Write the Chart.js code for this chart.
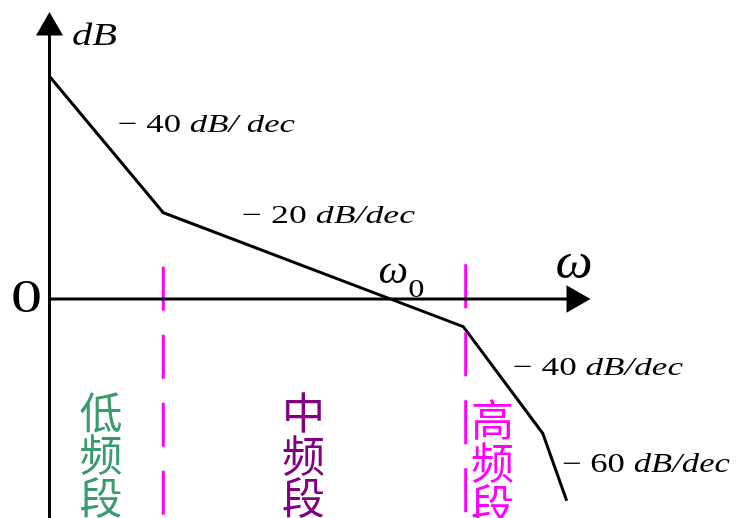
<!DOCTYPE html>
<html>
<head>
<meta charset="utf-8">
<script src="https://cdn.jsdelivr.net/npm/chart.js@4/dist/chart.umd.min.js"></script>
<style>
  html, body { margin: 0; padding: 0; background: #fff; }
  #wrap { width: 736px; height: 518px; }
  .pre { position: absolute; left: -1000px; top: 0; font-family: "Liberation Serif"; }
</style>
</head>
<body>
<span class="pre">0 dB</span><span class="pre" style="font-style:italic">dB ω</span>
<span class="pre" style="font-family:'Noto Sans CJK SC'">低频段</span>
<div id="wrap"><canvas id="c" width="736" height="518"></canvas></div>
<script>
// ---- data (sketch units: omega along x, gain in dB along y) ----
const omega  = [0.05, 11.38, 41.38, 49.32, 51.72];
const gainDB = [22.2, 8.63, -2.77, -13.43, -20.17];
const bandEdges = [11.38, 41.62];
const bandNames = ['低频段', '中频段', '高频段'];
const slopeValues = ['− 40', '− 20', '− 40', '− 60'];
const slopeUnit = 'dB/dec';

// ---- view window ----
const X_MIN = -4.95, X_MAX = 68.65, Y_MIN = -21.9, Y_MAX = 29.9;

const curve = omega.map((w, i) => ({ x: w, y: gainDB[i] }));

const datasets = [
  { // y axis with arrow
    data: [{ x: 0, y: Y_MIN }, { x: 0, y: 27.14 }],
    borderColor: '#000', borderWidth: 3,
    pointRadius: [0, 15.6], pointStyle: 'triangle', pointRotation: 0,
    pointBackgroundColor: '#000', pointBorderWidth: 0
  },
  { // x axis with arrow
    data: [{ x: 0, y: 0 }, { x: 52.5, y: 0 }],
    borderColor: '#000', borderWidth: 3,
    pointRadius: [0, 16], pointStyle: 'triangle', pointRotation: 90,
    pointBackgroundColor: '#000', pointBorderWidth: 0
  },
  ...bandEdges.map((e, i) => ({
    data: [{ x: e, y: i === 0 ? 3.23 : 3.47 }, { x: e, y: Y_MIN }],
    borderColor: '#FF00FF', borderWidth: 3, borderDash: [44, 24],
    pointRadius: 0
  })),
  { // asymptotic magnitude curve
    data: curve,
    borderColor: '#000', borderWidth: 3, pointRadius: 0, tension: 0
  }
];

// ---- text annotations (positions in data units) ----
const SERIF = '"Liberation Serif", serif';
const labels = [
  { x: 2.25, y: 25.4, runs: [{ t: 'dB', it: true }], size: 32, width: 45 },
  { x: 6.85, y: 16.7, runs: [{ t: slopeValues[0] + ' ' }, { t: 'dB/ dec', it: true }], size: 26, width: 177 },
  { x: 19.25, y: 7.6, runs: [{ t: slopeValues[1] + ' ' }, { t: slopeUnit, it: true }], size: 26, width: 173 },
  { x: 46.35, y: -7.6, runs: [{ t: slopeValues[2] + ' ' }, { t: slopeUnit, it: true }], size: 26, width: 170 },
  { x: 51.25, y: -17.3, runs: [{ t: slopeValues[3] + ' ' }, { t: slopeUnit, it: true }], size: 27, width: 168 },
  { x: -3.85, y: -1.27, runs: [{ t: '0' }], size: 46, sx: 1.35 },
  { x: 50.6, y: 2.1, runs: [{ t: 'ω', it: true }], size: 50, sx: 1.05 },
  { x: 32.9, y: 1.6, runs: [{ t: 'ω', it: true }, { t: '0', size: 25, dy: 14, sx: 1.3 }], size: 40, sx: 1.05 }
];
const bandLabels = [
  { x: 5.15, y: (299 - 412.5) / 10, color: '#3A9B6C' },
  { x: 25.4, y: (299 - 413) / 10, color: '#800080' },
  { x: 44.3, y: (299 - 420) / 10, color: '#FF00FF' }
];

const textPlugin = {
  id: 'texts',
  afterDatasetsDraw(chart) {
    const { ctx, scales: { x, y } } = chart;
    const fontOf = (r, l) => (r.it ? 'italic ' : '') + (r.size || l.size) + 'px ' + SERIF;
    labels.forEach(l => {
      const px = x.getPixelForValue(l.x), py = y.getPixelForValue(l.y);
      ctx.save();
      ctx.fillStyle = '#000';
      ctx.textBaseline = 'alphabetic';
      ctx.textAlign = 'left';
      let total = 0;
      l.runs.forEach(r => { ctx.font = fontOf(r, l); total += ctx.measureText(r.t).width; });
      const sx = l.width ? l.width / total : (l.sx || 1);
      ctx.translate(px, py);
      let cx = 0;
      l.runs.forEach(r => {
        ctx.font = fontOf(r, l);
        const w = ctx.measureText(r.t).width;
        const rs = r.sx || sx;
        ctx.save();
        ctx.translate(cx, r.dy || 0);
        ctx.scale(rs, 1);
        ctx.fillText(r.t, 0, 0);
        ctx.restore();
        cx += w * rs;
      });
      ctx.restore();
    });
    bandLabels.forEach((b, i) => {
      const px = x.getPixelForValue(b.x), py = y.getPixelForValue(b.y);
      ctx.save();
      ctx.fillStyle = b.color;
      ctx.font = '43px "Noto Sans CJK SC", sans-serif';
      ctx.textAlign = 'center';
      ctx.textBaseline = 'middle';
      [...bandNames[i]].forEach((ch, k) => ctx.fillText(ch, px, py + k * 42.5));
      ctx.restore();
    });
  }
};

function draw() {
  new Chart(document.getElementById('c'), {
    type: 'scatter',
    data: { datasets: datasets.map(d => ({ showLine: true, fill: false, ...d })) },
    options: {
      responsive: false,
      animation: false,
      layout: { padding: 0, autoPadding: false },
      plugins: { legend: { display: false }, tooltip: { enabled: false } },
      scales: {
        x: { type: 'linear', min: X_MIN, max: X_MAX, display: false },
        y: { type: 'linear', min: Y_MIN, max: Y_MAX, display: false }
      },
      elements: { line: { borderCapStyle: 'butt' } }
    },
    plugins: [textPlugin]
  });
}
Promise.all([
  document.fonts.load('25px "Liberation Serif"'),
  document.fonts.load('italic 25px "Liberation Serif"'),
  document.fonts.load('43px "Noto Sans CJK SC"', '低频段')
]).then(draw, draw);
</script>
</body>
</html>
